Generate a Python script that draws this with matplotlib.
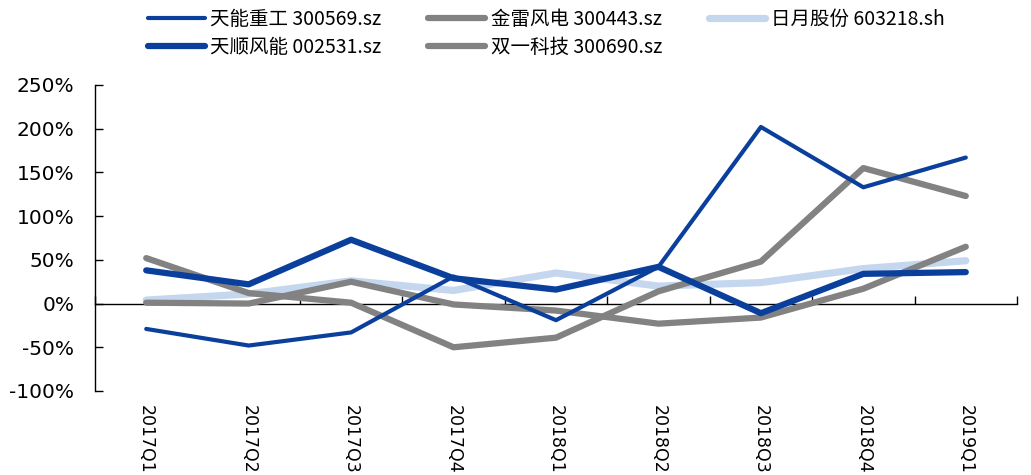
import matplotlib
matplotlib.use("Agg")
import matplotlib.pyplot as plt
import numpy as np
from matplotlib.ticker import FuncFormatter, FixedLocator

quarters = ["2017Q1", "2017Q2", "2017Q3", "2017Q4", "2018Q1",
            "2018Q2", "2018Q3", "2018Q4", "2019Q1"]

tianneng = [-29, -48, -33, 31, -19, 42, 202, 133, 167]      # 天能重工 300569.sz
tianshun = [38, 22, 73, 29, 16, 42, -11, 34, 36]            # 天顺风能 002531.sz
jinlei = [52, 12, 1, -50, -39, 14, 48, 155, 123]            # 金雷风电 300443.sz
shuangyi = [1, 0, 25, -1, -8, -23, -16, 17, 65]             # 双一科技 300690.sz
riyue = [4, 11, 26, 15, 35, 20, 24, 40, 49]                  # 日月股份 603218.sh

labels = ["天能重工 300569.sz", "天顺风能 002531.sz", "金雷风电 300443.sz",
          "双一科技 300690.sz", "日月股份 603218.sh"]

y_ticks = [-100, -50, 0, 50, 100, 150, 200, 250]

DARK = "#0A3F9C"
GRAY = "#828282"
LIGHT = "#C5D7EE"

fig = plt.figure(figsize=(10.31, 4.75), dpi=100)
ax = fig.add_axes([95 / 1031, 84 / 475, 922 / 1031, 306 / 475])

x = np.arange(len(quarters))
h1, = ax.plot(x, tianneng, color=DARK, lw=3.0, solid_capstyle="round", zorder=5)
h2, = ax.plot(x, tianshun, color=DARK, lw=4.5, solid_capstyle="round", zorder=4)
h3, = ax.plot(x, jinlei, color=GRAY, lw=4.5, solid_capstyle="round", zorder=3)
h4, = ax.plot(x, shuangyi, color=GRAY, lw=4.5, solid_capstyle="round", zorder=3)
h5, = ax.plot(x, riyue, color=LIGHT, lw=5.2, solid_capstyle="round", zorder=2)

ax.set_xlim(-0.5, len(quarters) - 0.5)
ax.set_ylim(y_ticks[0], y_ticks[-1])

for s in ["top", "right", "bottom"]:
    ax.spines[s].set_visible(False)
ax.spines["left"].set_color("black")
ax.spines["left"].set_linewidth(1.0)

ax.yaxis.set_major_locator(FixedLocator(y_ticks))
ax.yaxis.set_major_formatter(FuncFormatter(lambda v, p: f"{v:.0f}%"))
ax.tick_params(axis="y", direction="in", length=6, width=1, labelsize=14.5,
               pad=15, colors="black")

ax.set_xticks(x)
ax.set_xticklabels(quarters, rotation=270, fontsize=12.5)
ax.tick_params(axis="x", length=0, pad=10)

# zero line with category boundary ticks
y0 = (0 - y_ticks[0]) / (y_ticks[-1] - y_ticks[0])
sec = ax.secondary_xaxis(y0)
sec.set_xticks(np.arange(-0.5, len(quarters), 1.0))
sec.set_xticklabels([])
sec.tick_params(axis="x", direction="in", length=6, width=1, colors="black")
for s in sec.spines.values():
    s.set_linewidth(1.0)
    s.set_color("black")

leg = fig.legend([h1, h2, h3, h4, h5], labels, ncol=3, loc="upper center",
                 bbox_to_anchor=(0.53, 1.01), frameon=False,
                 prop={"family": ["Noto Sans CJK SC", "DejaVu Sans"], "size": 14},
                 handlelength=2.9, handletextpad=0.3, columnspacing=2.4,
                 labelspacing=0.35, borderaxespad=0.3)

fig.savefig("out.png", dpi=100)
